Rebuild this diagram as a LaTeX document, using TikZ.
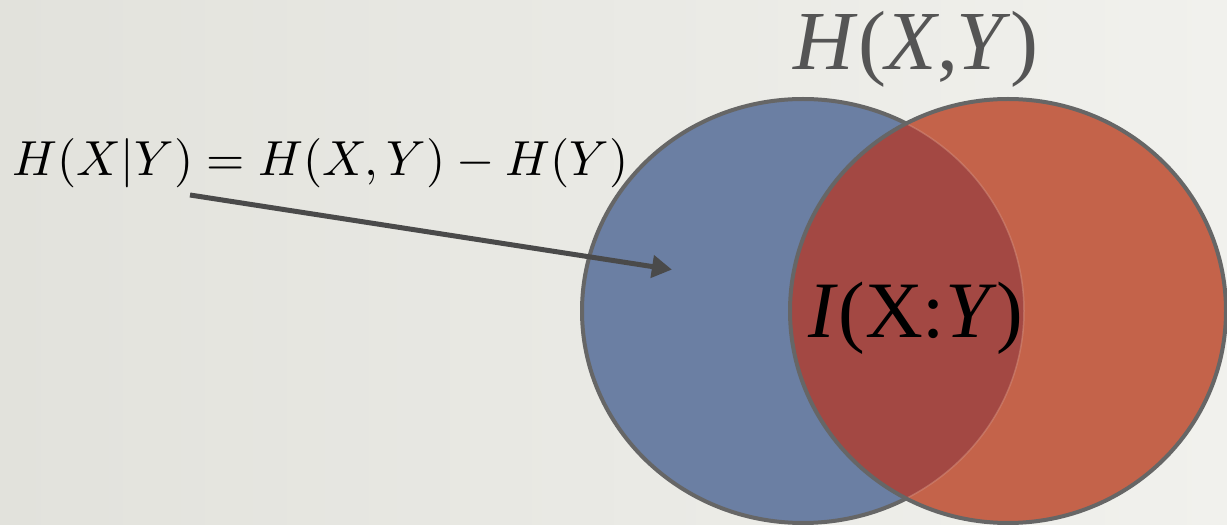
\documentclass[tikz,border=0pt]{standalone}
\usepackage{fontspec}
\setmainfont{Liberation Serif}
\usetikzlibrary{arrows.meta}
\definecolor{bgL}{HTML}{E2E2DC}
\definecolor{bgR}{HTML}{F1F1ED}
\definecolor{setblue}{HTML}{6B7FA3}
\definecolor{setred}{HTML}{C4634A}
\definecolor{setmix}{HTML}{A34843}
\definecolor{rim}{HTML}{666666}
\definecolor{arrowgray}{HTML}{4A4A4A}
\definecolor{titlegray}{HTML}{555555}
\tikzset{
  rimline/.style={draw=rim, line width=4pt},
  pointer/.style={draw=arrowgray, line width=5pt, -{Triangle[length=20pt,width=22pt]}, shorten >=-4pt},
}
\begin{document}
\begin{tikzpicture}[x=1pt,y=1pt]
\useasboundingbox (0,0) rectangle (1227,525);
\shade[left color=bgL, right color=bgR] (0,0) rectangle (1227,525);
% sets
\coordinate (bc) at (803,214);
\coordinate (rc) at (1008,214);
\fill[setblue] (bc) ellipse [x radius=221, y radius=212];
\draw[rimline] (bc) ellipse [x radius=221, y radius=212];
\fill[setred] (rc) ellipse [x radius=218, y radius=212];
\begin{scope}
  \clip (bc) ellipse [x radius=221, y radius=212];
  \fill[setmix] (rc) ellipse [x radius=218, y radius=212];
\end{scope}
\begin{scope}
  \clip (rc) ellipse [x radius=218, y radius=212];
  \draw[draw=setred!70!white, opacity=0.5, line width=1.5pt] (bc) ellipse [x radius=221, y radius=212];
\end{scope}
\draw[rimline] (rc) ellipse [x radius=218, y radius=212];
% labels
\node[text=titlegray, font=\fontsize{84}{88}\selectfont, inner sep=0pt, anchor=base] (joint) at (916,455) {\textit{H}(\textit{X},\kern-2pt\textit{Y})};
\node[text=black, font=\fontsize{80}{84}\selectfont, inner sep=0pt, anchor=base] (mutual) at (916,187) {\textit{I}(X:\textit{Y})};
\node[inner sep=0pt, anchor=base west] (cond) at (12,349) {\resizebox{616pt}{!}{$H(X|Y)=H(X,Y)-H(Y)$}};
% pointer
\coordinate (arrowstart) at (190,330);
\coordinate (arrowend) at (668,256);
\draw[pointer] (arrowstart) -- (arrowend);
\end{tikzpicture}
\end{document}
